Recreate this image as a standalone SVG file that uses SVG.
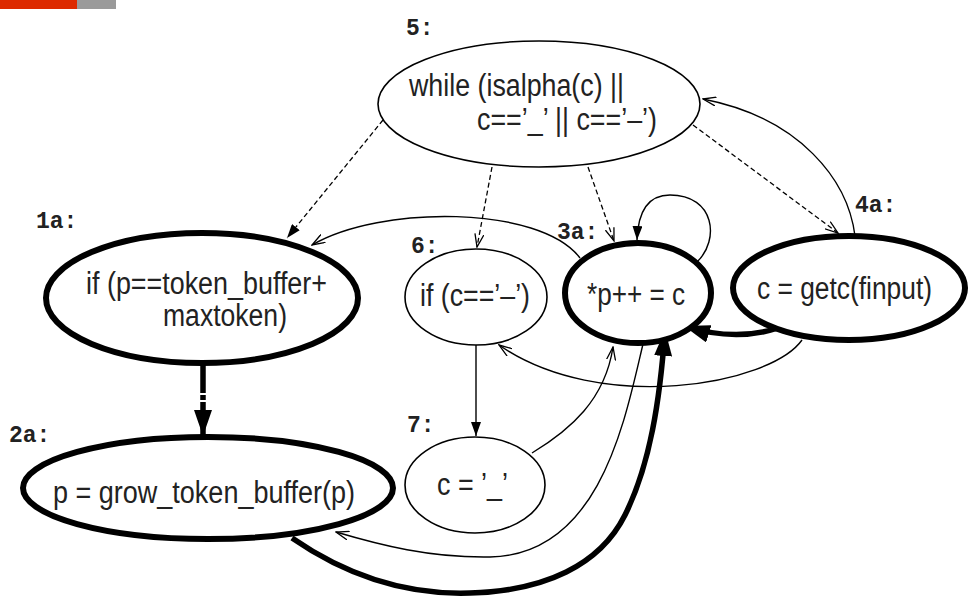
<svg xmlns="http://www.w3.org/2000/svg" width="974" height="605" viewBox="0 0 974 605">
<style>
.bg{fill:#fff}
.n{fill:#fff;stroke:#000;stroke-width:1.6}
.nb{fill:#fff;stroke:#000;stroke-width:6}
.t{font-family:"Liberation Sans",Arial,sans-serif;font-size:31px;fill:#222}
.lb{font-family:"Liberation Mono","DejaVu Sans Mono",monospace;font-weight:bold;font-size:23px;fill:#222}
.e{fill:none;stroke:#000;stroke-width:1.4}
.d{fill:none;stroke:#000;stroke-width:1.3;stroke-dasharray:5 3}
.k{fill:none;stroke:#000;stroke-width:5.5}
</style>
<defs>
<marker id="fs" markerUnits="userSpaceOnUse" viewBox="0 0 14 10" refX="14" refY="5" markerWidth="14" markerHeight="10" orient="auto"><path d="M0,0 L14,5 L0,10 z" fill="#000"/></marker>
<marker id="fl" markerUnits="userSpaceOnUse" viewBox="0 0 26 18" refX="26" refY="9" markerWidth="26" markerHeight="18" orient="auto"><path d="M0,0 L26,9 L0,18 z" fill="#000"/></marker>
<marker id="op" markerUnits="userSpaceOnUse" viewBox="0 0 14 10" refX="13" refY="5" markerWidth="14" markerHeight="10" orient="auto"><path d="M0,0.5 L13,5 L0,9.5" fill="none" stroke="#000" stroke-width="1.3"/></marker>
</defs>
<rect class="bg" x="0" y="0" width="974" height="605"/>
<rect x="0" y="0" width="77" height="9" fill="#dd2a00"/>
<rect x="77" y="0" width="39" height="9" fill="#9a9a9a"/>

<g id="connectors">
<path class="d" d="M383,120 L287,238" marker-end="url(#fs)"/>
<path class="d" d="M492,167 L477,247" marker-end="url(#op)"/>
<path class="d" d="M588,167 L614,241" marker-end="url(#op)"/>
<path class="d" d="M693,125 L838,233" marker-end="url(#op)"/>
<path class="e" d="M855,236 C848,180 800,118 703,99" marker-end="url(#op)"/>
<path class="e" d="M580,258 C540,205 380,205 312,245" marker-end="url(#op)"/>
<path class="e" d="M697,262 C720,240 715,195 670,195 C648,195 638,212 637,240" marker-end="url(#fs)"/>
<path class="k" d="M203,364 L203,436" stroke-dasharray="29 2 5 2 200" marker-end="url(#fl)"/>
<path class="k" d="M778,328 Q735,342 684,326" marker-end="url(#fl)"/>
<path class="e" d="M802,340 C770,385 600,415 499,345" marker-end="url(#op)"/>
<path class="e" d="M476,345 L476,436" marker-end="url(#fs)"/>
<path class="e" d="M532,453 C570,430 605,400 613,347" marker-end="url(#op)"/>
<path class="e" d="M643,344 C625,420 600,555 490,557 C430,558 380,545 336,532" marker-end="url(#op)"/>
<path class="k" d="M292,538 C350,578 410,595 470,593 C545,591 600,565 625,515 C650,465 660,400 665,330" marker-end="url(#fl)"/>
</g>

<g id="n5">
<ellipse class="n" cx="539" cy="104" rx="161" ry="63"/>
<text class="t" x="409" y="96" textLength="215" lengthAdjust="spacingAndGlyphs">while (isalpha(c) ||</text>
<text class="t" x="477" y="130" textLength="180" lengthAdjust="spacingAndGlyphs">c==’_’ || c==’–’)</text>
<text class="lb" x="406" y="35">5:</text>
</g>
<g id="n1a">
<ellipse class="nb" cx="202" cy="298" rx="156" ry="65"/>
<text class="t" x="86" y="294" textLength="241" lengthAdjust="spacingAndGlyphs">if (p==token_buffer+</text>
<text class="t" x="163" y="326" textLength="124" lengthAdjust="spacingAndGlyphs">maxtoken)</text>
<text class="lb" x="36" y="228">1a:</text>
</g>
<g id="n2a">
<ellipse class="nb" cx="208" cy="488" rx="185" ry="51"/>
<text class="t" x="53" y="503" textLength="302" lengthAdjust="spacingAndGlyphs">p = grow_token_buffer(p)</text>
<text class="lb" x="9" y="442">2a:</text>
</g>
<g id="n6">
<ellipse class="n" cx="476" cy="297" rx="71" ry="48"/>
<text class="t" x="420" y="306" textLength="110" lengthAdjust="spacingAndGlyphs">if (c==’–’)</text>
<text class="lb" x="411" y="253">6:</text>
</g>
<g id="n3a">
<ellipse class="nb" cx="638" cy="293" rx="73" ry="50"/>
<text class="t" x="587" y="305" textLength="98" lengthAdjust="spacingAndGlyphs">*p++ = c</text>
<text class="lb" x="557" y="239">3a:</text>
</g>
<g id="n4a">
<ellipse class="nb" cx="849" cy="288" rx="116" ry="52"/>
<text class="t" x="757" y="299" textLength="175" lengthAdjust="spacingAndGlyphs">c = getc(finput)</text>
<text class="lb" x="855" y="212">4a:</text>
</g>
<g id="n7">
<ellipse class="n" cx="475" cy="485" rx="70" ry="48"/>
<text class="t" x="437" y="495" textLength="71" lengthAdjust="spacingAndGlyphs">c = ’_’</text>
<text class="lb" x="407" y="432">7:</text>
</g>
</svg>
